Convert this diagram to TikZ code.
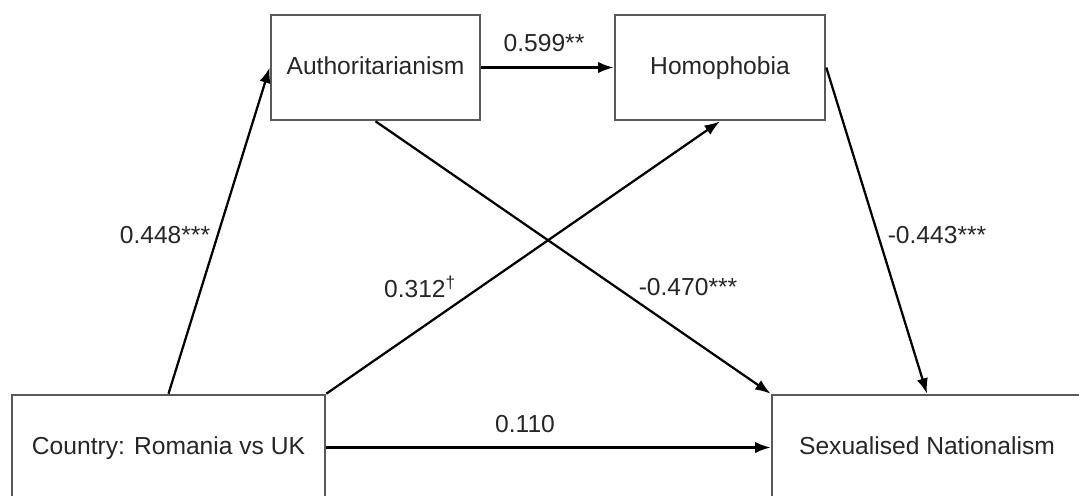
\documentclass[tikz,border=0pt]{standalone}
\usepackage{fontspec}
\setmainfont{Liberation Sans}
\usetikzlibrary{arrows.meta}

\begin{document}
\begin{tikzpicture}[x=0.025cm,y=-0.025cm,font=\fontsize{17.5}{21}\selectfont,
    var/.style={draw=black!65,line width=1.8pt,minimum height=2.625cm,inner sep=0pt,
      text=black!85,text height=1.2em,text depth=0.2em},
    effect/.style={-{Latex[length=11pt,width=8pt]},line width=1.6pt},
    coef/.style={text=black!85,inner sep=1pt}]
  \clip (0,0) rectangle (1079,495);
  \node[var,minimum width=7.825cm] (country) at (168.5,447.5) {Country: Romania vs UK};
  \node[var,minimum width=5.225cm] (auth) at (375.5,67.5) {Authoritarianism};
  \node[var,minimum width=5.25cm] (homo) at (720,67.5) {Homophobia};
  \node[var,minimum width=7.75cm] (sexnat) at (927,447.5) {Sexualised Nationalism};
  \draw[effect] (country.north) -- (auth.west);
  \draw[effect] (country.north east) -- (homo.south);
  \draw[effect] (country.east) -- (sexnat.west);
  \draw[effect] (auth.east) -- (homo.west);
  \draw[effect] (auth.south) -- (sexnat.north west);
  \draw[effect] (homo.east) -- (sexnat.north);
  \node[coef] (c599) at (544,43) {0.599**};
  \node[coef] (c448) at (165,235) {0.448***};
  \node[coef] (c312) at (420,287) {0.312\textsuperscript{†}};
  \node[coef] (c470) at (688,287) {-0.470***};
  \node[coef] (c443) at (937,235) {-0.443***};
  \node[coef] (c110) at (525,424) {0.110};
\end{tikzpicture}
\end{document}
